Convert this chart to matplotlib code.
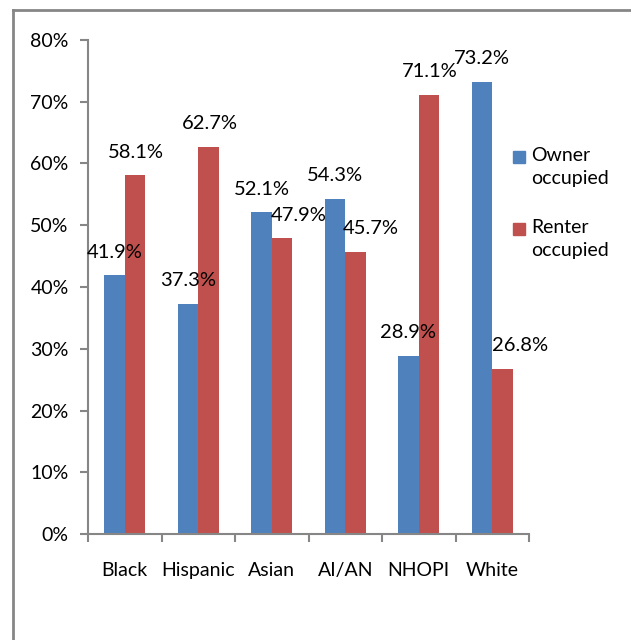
import numpy as np
import matplotlib
matplotlib.use("Agg")
import matplotlib.pyplot as plt
from matplotlib.lines import Line2D
from matplotlib.patches import Rectangle
from matplotlib.ticker import FuncFormatter, FixedLocator

plt.rcParams['font.family'] = ['Lato', 'DejaVu Sans']

# data
groups = ["Black", "Hispanic", "Asian", "AI/AN", "NHOPI", "White"]
owner = [41.9, 37.3, 52.1, 54.3, 28.9, 73.2]
renter = [58.1, 62.7, 47.9, 45.7, 71.1, 26.8]
series_names = ["Owner\noccupied", "Renter\noccupied"]

# label nudges (pixels to the right) for renter labels, as in the original
renter_dx = [1, 1, 17, 15, 1, 18]

blue = "#4F81BD"
red = "#C0504D"
grey = "#868686"

W, H = 631, 640
fig = plt.figure(figsize=(W / 100, H / 100), dpi=100)
ax = fig.add_axes([88 / W, 1 - 534 / H, (529 - 88) / W, (534 - 40) / H])

x = np.arange(len(groups))
w = 0.28
ax.bar(x - w / 2, owner, w, color=blue, linewidth=0)
ax.bar(x + w / 2, renter, w, color=red, linewidth=0)

px = 0.72  # points per pixel
for i in range(len(groups)):
    ax.annotate(f"{owner[i]:.1f}%", (x[i] - w / 2, owner[i]),
                xytext=(0, 23 * px), textcoords="offset points",
                ha="center", va="center", fontsize=14.5)
    ax.annotate(f"{renter[i]:.1f}%", (x[i] + w / 2, renter[i]),
                xytext=(renter_dx[i] * px, 23 * px), textcoords="offset points",
                ha="center", va="center", fontsize=14.5)

ax.set_xlim(-0.5, len(groups) - 0.5)
ax.set_ylim(0, 80)
ax.set_yticks(np.arange(0, 81, 10))
ax.yaxis.set_major_formatter(FuncFormatter(lambda v, p: f"{v:.0f}%"))
ax.set_xticks(x)
ax.set_xticklabels(groups)
ax.xaxis.set_minor_locator(FixedLocator(np.arange(-0.5, len(groups), 1.0)))

for s in ["top", "right"]:
    ax.spines[s].set_visible(False)
for s in ["left", "bottom"]:
    ax.spines[s].set_color(grey)
    ax.spines[s].set_linewidth(1.5)

ax.tick_params(axis="y", length=6, width=1.5, color=grey, pad=8, labelsize=14)
ax.tick_params(axis="x", which="major", length=0, pad=20, labelsize=14)
ax.tick_params(axis="x", which="minor", length=6, width=1.5, color=grey)

# legend drawn by hand so the square sits beside the first line
for k, (name, col) in enumerate(zip(series_names, [blue, red])):
    y0 = 157 + k * 72
    fig.patches.append(Rectangle((513 / W, 1 - (y0 + 6) / H), 12 / W, 12 / H,
                                 transform=fig.transFigure, color=col))
    fig.text(531 / W, 1 - (y0 - 10) / H, name, fontsize=14, ha="left", va="top",
             linespacing=1.45)

# chart frame
fig.add_artist(Line2D([13 / W, 13 / W], [1 - 10 / H, -0.1], color=grey, lw=2,
                      transform=fig.transFigure))
fig.add_artist(Line2D([13 / W, 1.1], [1 - 10 / H, 1 - 10 / H], color=grey, lw=2,
                      transform=fig.transFigure))

fig.savefig("out.png", dpi=100)
